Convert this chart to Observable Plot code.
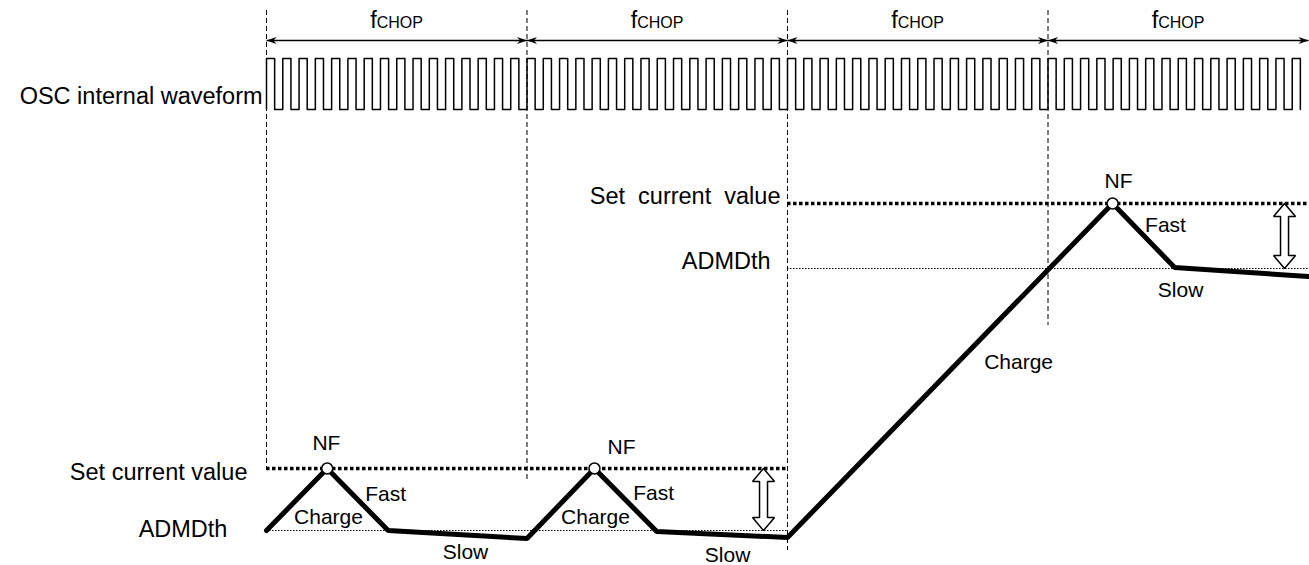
<!DOCTYPE html>
<html>
<head>
<meta charset="utf-8">
<script src="https://cdn.jsdelivr.net/npm/d3@7"></script>
<script src="https://cdn.jsdelivr.net/npm/@observablehq/plot@0.6"></script>
<style>
  html, body { margin: 0; padding: 0; background: #fff; overflow: hidden; }
  #chart svg { display: block; }
</style>
</head>
<body>
<div id="chart"></div>
<script>
// ---------- data ----------
// time axis in fCHOP periods, vertical axis in diagram level units (0 = bottom)
const periods = [0, 1, 2, 3];
const chopMain = "f";
const chopSub = "CHOP";
const pulsesPerPeriod = 16;          // OSC clock pulses per fCHOP period
const clockHigh = 507;
const clockLow = 456;
const arrowLevel = 525;              // level of the fCHOP span arrows
const guideTop = 555;
const guideBottom = [97, 85, 15, 240];

const regimeStart = [0, 2];
const regimeEnd = [2, 4];
const setLevel = [97, 362];          // "Set current value"
const admLevel = [35, 297];          // "ADMDth"
const gapArrowT = [1.908, 3.908];    // hollow double arrows

// coil current waveform (vertices)
const waveT = [0, 0.233, 0.467, 1.0, 1.259, 1.498, 2.0, 3.248, 3.486, 4.0];
const waveI = [35, 97, 35, 27, 97, 34, 28, 362, 298, 289];
const nfIndex = [1, 4, 7];

// side labels
const sideText = ["OSC internal waveform", "Set current value", "ADMDth", "Set\u00a0 current\u00a0 value", "ADMDth"];
const sideT = [-0.015, -0.073, -0.150, 1.973, 1.935];
const sideY = [469, 93.5, 36.5, 369, 304];

// phase labels
const phaseText = ["NF", "NF", "NF", "Fast", "Fast", "Fast", "Charge", "Charge", "Charge", "Slow", "Slow", "Slow"];
const phaseT = [0.230, 1.363, 3.271, 0.457, 1.486, 3.451, 0.238, 1.263, 2.887, 0.764, 1.770, 3.509];
const phaseY = [122, 118, 384, 71, 72.5, 340, 48.5, 48.5, 203.5, 13.5, 10.5, 275.5];

// ---------- derived tables ----------
const xRange = [266, 1308];
const pxPerPeriod = (xRange[1] - xRange[0]) / 4;

const clockPts = [{t: 0, v: clockLow}];
d3.range(pulsesPerPeriod * periods.length).forEach(k => {
  clockPts.push({t: k / pulsesPerPeriod, v: clockHigh});
  clockPts.push({t: (k + 0.5) / pulsesPerPeriod, v: clockLow});
});

const wave = waveT.map((t, i) => ({t, v: waveI[i]}));
const peaks = nfIndex.map(i => wave[i]);

const regimes = regimeStart.map((s, i) => ({s, e: regimeEnd[i], set: setLevel[i], adm: admLevel[i]}));

const hw = 11 / pxPerPeriod, sw = 4 / pxPerPeriod, hl = 13;
const hollow = [];
gapArrowT.forEach((xc, i) => {
  const top = setLevel[i], bot = admLevel[i];
  [[xc, top], [xc + hw, top - hl], [xc + sw, top - hl], [xc + sw, bot + hl], [xc + hw, bot + hl],
   [xc, bot], [xc - hw, bot + hl], [xc - sw, bot + hl], [xc - sw, top - hl], [xc - hw, top - hl], [xc, top]]
    .forEach(([t, v]) => hollow.push({id: i, t, v}));
});

const sides = sideText.map((text, i) => ({text, t: sideT[i], v: sideY[i]}));
const phases = phaseText.map((text, i) => ({text, t: phaseT[i], v: phaseY[i]}));

// arrowhead symbols (tip at the anchor point)
const headRight = {draw(ctx) { ctx.moveTo(0, 0); ctx.lineTo(-10, -3.5); ctx.lineTo(-7, 0); ctx.lineTo(-10, 3.5); ctx.closePath(); }};
const headLeft = {draw(ctx) { ctx.moveTo(0, 0); ctx.lineTo(10, -3.5); ctx.lineTo(7, 0); ctx.lineTo(10, 3.5); ctx.closePath(); }};

const font = "'Liberation Sans', Arial, Helvetica, sans-serif";

const chart = Plot.plot({
  width: 1309,
  height: 565,
  margin: 0,
  style: {fontFamily: font, background: "#fff", color: "#000"},
  x: {domain: [0, 4], range: xRange, axis: null},
  y: {domain: [0, 565], range: [565, 0], axis: null},
  marks: [
    // dashed period guides
    Plot.ruleX(periods, {x: d => d, y1: () => guideTop, y2: (d, i) => guideBottom[i],
      stroke: "#000", strokeWidth: 1, strokeDasharray: "5,3"}),
    // fCHOP span arrows
    Plot.link(periods, {x1: d => d, x2: d => d + 1, y1: () => arrowLevel, y2: () => arrowLevel,
      stroke: "#000", strokeWidth: 1.5}),
    Plot.dot(periods, {x: d => d, y: () => arrowLevel, symbol: headLeft, fill: "#000", stroke: "none"}),
    Plot.dot(periods, {x: d => d + 1, y: () => arrowLevel, symbol: headRight, fill: "#000", stroke: "none"}),
    Plot.text(periods, {x: d => d + 0.5, y: () => arrowLevel + 13, text: () => chopMain, textAnchor: "end",
      lineAnchor: "bottom", dx: -20, fontSize: 23.5, fill: "#000"}),
    Plot.text(periods, {x: d => d + 0.5, y: () => arrowLevel + 13, text: () => chopSub, textAnchor: "start",
      lineAnchor: "bottom", dx: -20, fontSize: 16, fill: "#000"}),
    // OSC clock
    Plot.line(clockPts, {x: "t", y: "v", curve: "step-after", stroke: "#000", strokeWidth: 1.5}),
    // threshold lines
    Plot.ruleY(regimes, {y: "adm", x1: "s", x2: "e", stroke: "#000", strokeWidth: 1.2, strokeDasharray: "1.5,1.5"}),
    Plot.ruleY(regimes, {y: "set", x1: "s", x2: "e", stroke: "#000", strokeWidth: 3.5, strokeDasharray: "3.5,2.5"}),
    // hollow double arrows
    Plot.line(hollow, {x: "t", y: "v", z: "id", fill: "#fff", stroke: "#000", strokeWidth: 1.5,
      strokeLinejoin: "miter"}),
    // coil current waveform
    Plot.line(wave, {x: "t", y: "v", stroke: "#000", strokeWidth: 5, strokeLinejoin: "miter"}),
    Plot.dot(peaks, {x: "t", y: "v", r: 5.5, fill: "#fff", stroke: "#000", strokeWidth: 1.5}),
    // labels
    Plot.text(sides, {x: "t", y: "v", text: "text", textAnchor: "end", lineAnchor: "middle",
      fontSize: 23.5, fill: "#000"}),
    Plot.text(phases, {x: "t", y: "v", text: "text", textAnchor: "middle", lineAnchor: "middle",
      fontSize: 21, fill: "#000"})
  ]
});
document.getElementById("chart").appendChild(chart);
</script>
</body>
</html>
